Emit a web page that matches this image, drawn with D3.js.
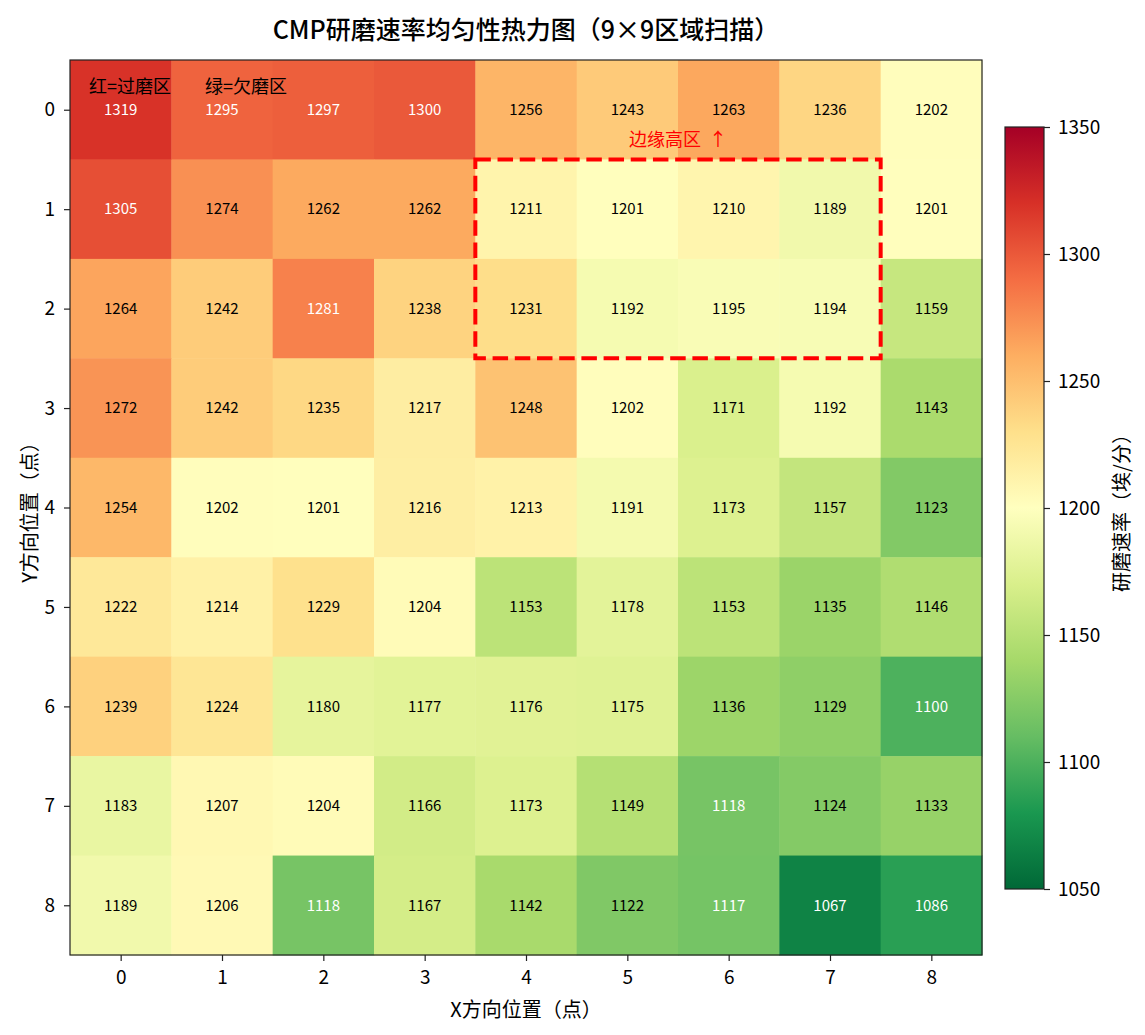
<!DOCTYPE html>
<html>
<head>
<meta charset="utf-8">
<script src="https://cdn.jsdelivr.net/npm/d3@7"></script>
<style>
  body { margin: 0; background: #fff; }
  text { font-family: "Noto Sans CJK SC", "Noto Sans", sans-serif; }
</style>
</head>
<body>
<div id="chart-area"></div>
<script>
// CMP removal-rate heatmap, 9x9 scan

const xLabels = [0, 1, 2, 3, 4, 5, 6, 7, 8]
const yLabels = [0, 1, 2, 3, 4, 5, 6, 7, 8]

// rows = Y position, columns = X position
const rates = [
  [1319, 1295, 1297, 1300, 1256, 1243, 1263, 1236, 1202],
  [1305, 1274, 1262, 1262, 1211, 1201, 1210, 1189, 1201],
  [1264, 1242, 1281, 1238, 1231, 1192, 1195, 1194, 1159],
  [1272, 1242, 1235, 1217, 1248, 1202, 1171, 1192, 1143],
  [1254, 1202, 1201, 1216, 1213, 1191, 1173, 1157, 1123],
  [1222, 1214, 1229, 1204, 1153, 1178, 1153, 1135, 1146],
  [1239, 1224, 1180, 1177, 1176, 1175, 1136, 1129, 1100],
  [1183, 1207, 1204, 1166, 1173, 1149, 1118, 1124, 1133],
  [1189, 1206, 1118, 1167, 1142, 1122, 1117, 1067, 1086]
]

const cbarTicks = [1050, 1100, 1150, 1200, 1250, 1300, 1350]
const colorRange = [1050, 1350]

// highlighted edge region, in cell coordinates
const highlight = {x0: 3.5, x1: 7.5, y0: 0.5, y1: 2.5}

const WIDTH = 1145
const HEIGHT = 1035
const PLOT = {LEFT: 70, RIGHT: 982, TOP: 60, BOTTOM: 955}
const CBAR = {LEFT: 1005, RIGHT: 1044, TOP: 127, BOTTOM: 889}

const svg = d3.select("#chart-area").append("svg")
  .attr("width", WIDTH)
  .attr("height", HEIGHT)

// matplotlib RdYlGn, reversed (high = red)
const rdylgn = ["#a50026", "#d73027", "#f46d43", "#fdae61", "#fee08b", "#ffffbf",
                "#d9ef8b", "#a6d96a", "#66bd63", "#1a9850", "#006837"]
const color = d3.scaleLinear()
  .domain(d3.range(11).map(i => colorRange[1] - i * (colorRange[1] - colorRange[0]) / 10))
  .range(rdylgn)
  .interpolate(d3.interpolateRgb)
  .clamp(true)

const x = d3.scaleLinear().domain([-0.5, xLabels.length - 0.5]).range([PLOT.LEFT, PLOT.RIGHT])
const y = d3.scaleLinear().domain([-0.5, yLabels.length - 0.5]).range([PLOT.TOP, PLOT.BOTTOM])

const cells = []
rates.forEach((row, r) => row.forEach((v, c) => cells.push({r, c, v})))

// cells
svg.append("g").selectAll("rect").data(cells).enter().append("rect")
  .attr("x", d => x(d.c - 0.5))
  .attr("y", d => y(d.r - 0.5))
  .attr("width", x(1) - x(0) + 0.5)
  .attr("height", y(1) - y(0) + 0.5)
  .attr("fill", d => color(d.v))

// values
svg.append("g").selectAll("text").data(cells).enter().append("text")
  .attr("x", d => x(d.c))
  .attr("y", d => y(d.r))
  .attr("dy", "0.35em")
  .attr("text-anchor", "middle")
  .attr("font-size", "15px")
  .attr("fill", d => Math.abs(d.v - 1200) > 80 ? "white" : "black")
  .text(d => d.v)

// dashed box around the edge-high region
svg.append("rect")
  .attr("x", x(highlight.x0))
  .attr("y", y(highlight.y0))
  .attr("width", x(highlight.x1) - x(highlight.x0))
  .attr("height", y(highlight.y1) - y(highlight.y0))
  .attr("fill", "none")
  .attr("stroke", "red")
  .attr("stroke-width", 4)
  .attr("stroke-dasharray", "15.5 6.7")

svg.append("text")
  .attr("x", x(5.5))
  .attr("y", y(0.3))
  .attr("dy", "0.35em")
  .attr("text-anchor", "middle")
  .attr("font-size", "18px")
  .attr("fill", "red")
  .text("边缘高区 \u00a0↑")

// legend note inside the plot
svg.append("text")
  .attr("x", PLOT.LEFT + 19)
  .attr("y", PLOT.TOP + 27)
  .attr("dy", "0.35em")
  .attr("font-size", "18px")
  .text("红=过磨区")
svg.append("text")
  .attr("x", PLOT.LEFT + 135)
  .attr("y", PLOT.TOP + 27)
  .attr("dy", "0.35em")
  .attr("font-size", "18px")
  .text("绿=欠磨区")

// frame
svg.append("rect")
  .attr("x", PLOT.LEFT)
  .attr("y", PLOT.TOP)
  .attr("width", PLOT.RIGHT - PLOT.LEFT)
  .attr("height", PLOT.BOTTOM - PLOT.TOP)
  .attr("fill", "none")
  .attr("stroke", "#222")
  .attr("stroke-width", 1.2)

// axes
const xAxisCall = d3.axisBottom(x).tickValues(xLabels).tickSize(6).tickPadding(10)
svg.append("g")
  .attr("transform", `translate(0, ${PLOT.BOTTOM})`)
  .call(xAxisCall)
  .call(g => g.select(".domain").remove())
  .call(g => g.selectAll("line").attr("stroke", "#222").attr("stroke-width", 1.2))
  .call(g => g.selectAll("text").attr("font-size", "19px").attr("fill", "#000"))

const yAxisCall = d3.axisLeft(y).tickValues(yLabels).tickSize(6).tickPadding(9)
svg.append("g")
  .attr("transform", `translate(${PLOT.LEFT}, 0)`)
  .call(yAxisCall)
  .call(g => g.select(".domain").remove())
  .call(g => g.selectAll("line").attr("stroke", "#222").attr("stroke-width", 1.2))
  .call(g => g.selectAll("text").attr("font-size", "19px").attr("fill", "#000"))

// title and axis labels
svg.append("text")
  .attr("x", (PLOT.LEFT + PLOT.RIGHT) / 2)
  .attr("y", 30)
  .attr("dy", "0.35em")
  .attr("text-anchor", "middle")
  .attr("font-size", "25px")
  .attr("font-weight", 500)
  .text("CMP研磨速率均匀性热力图（9×9区域扫描）")

svg.append("text")
  .attr("x", (PLOT.LEFT + PLOT.RIGHT) / 2)
  .attr("y", 1010)
  .attr("dy", "0.35em")
  .attr("text-anchor", "middle")
  .attr("font-size", "20px")
  .text("X方向位置（点）")

svg.append("text")
  .attr("transform", `translate(30, ${(PLOT.TOP + PLOT.BOTTOM) / 2}) rotate(-90)`)
  .attr("dy", "0.35em")
  .attr("text-anchor", "middle")
  .attr("font-size", "20px")
  .text("Y方向位置（点）")

// colorbar
const cbarY = d3.scaleLinear().domain(colorRange).range([CBAR.BOTTOM, CBAR.TOP])
const defs = svg.append("defs")
const grad = defs.append("linearGradient")
  .attr("id", "cbar-grad")
  .attr("x1", 0).attr("y1", 1).attr("x2", 0).attr("y2", 0)
grad.selectAll("stop").data(color.domain().slice().reverse()).enter().append("stop")
  .attr("offset", d => (d - colorRange[0]) / (colorRange[1] - colorRange[0]))
  .attr("stop-color", d => color(d))

svg.append("rect")
  .attr("x", CBAR.LEFT)
  .attr("y", CBAR.TOP)
  .attr("width", CBAR.RIGHT - CBAR.LEFT)
  .attr("height", CBAR.BOTTOM - CBAR.TOP)
  .attr("fill", "url(#cbar-grad)")
  .attr("stroke", "#222")
  .attr("stroke-width", 1.2)

const cbarAxis = d3.axisRight(cbarY).tickValues(cbarTicks).tickFormat(d3.format("d"))
  .tickSize(6).tickPadding(8)
svg.append("g")
  .attr("transform", `translate(${CBAR.RIGHT}, 0)`)
  .call(cbarAxis)
  .call(g => g.select(".domain").remove())
  .call(g => g.selectAll("line").attr("stroke", "#222").attr("stroke-width", 1.2))
  .call(g => g.selectAll("text").attr("font-size", "19px").attr("fill", "#000"))

svg.append("text")
  .attr("transform", `translate(1122, ${(CBAR.TOP + CBAR.BOTTOM) / 2}) rotate(-90)`)
  .attr("dy", "0.35em")
  .attr("text-anchor", "middle")
  .attr("font-size", "20px")
  .text("研磨速率（埃/分）")
</script>
</body>
</html>
